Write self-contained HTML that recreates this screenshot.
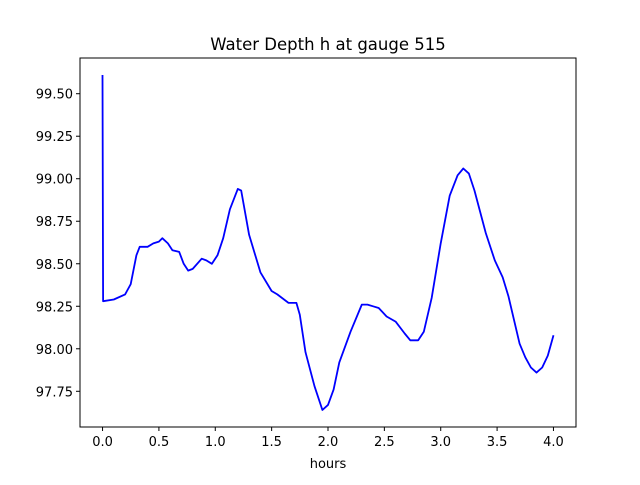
<!DOCTYPE html>
<html><head><meta charset="utf-8"><style>
body{margin:0;background:#fff;}
svg text{font-family:"DejaVu Sans","Liberation Sans",sans-serif;fill:#000;}
</style></head><body>
<svg id="chart" width="640" height="480" xmlns="http://www.w3.org/2000/svg">
<rect width="640" height="480" fill="#fff"/>
<text x="328" y="50" font-size="16.5" text-anchor="middle">Water Depth h at gauge 515</text>
<g id="plot"></g>
<rect x="80" y="58" width="496" height="369" fill="none" stroke="#000" stroke-width="1"/>
<text x="328" y="468" font-size="13" text-anchor="middle">hours</text>
</svg>
<script>
const hours=[0,0.005,0.1,0.2,0.25,0.3,0.33,0.4,0.45,0.5,0.53,0.58,0.62,0.68,0.72,0.76,0.8,0.88,0.92,0.97,1.02,1.07,1.13,1.2,1.23,1.3,1.4,1.5,1.55,1.65,1.72,1.75,1.8,1.88,1.95,2.0,2.05,2.1,2.2,2.3,2.35,2.4,2.45,2.52,2.6,2.68,2.73,2.8,2.85,2.92,3.0,3.08,3.15,3.2,3.25,3.3,3.4,3.48,3.55,3.6,3.7,3.75,3.8,3.85,3.9,3.95,4.0];
const depth=[99.61,98.28,98.29,98.32,98.38,98.55,98.60,98.60,98.62,98.63,98.65,98.62,98.58,98.57,98.50,98.46,98.47,98.53,98.52,98.50,98.55,98.65,98.82,98.94,98.93,98.67,98.45,98.34,98.32,98.27,98.27,98.20,97.98,97.78,97.64,97.67,97.76,97.92,98.10,98.26,98.26,98.25,98.24,98.19,98.16,98.09,98.05,98.05,98.10,98.30,98.62,98.90,99.02,99.06,99.03,98.93,98.68,98.52,98.42,98.31,98.03,97.95,97.89,97.86,97.89,97.96,98.08];
const xTicks=[0,0.5,1,1.5,2,2.5,3,3.5,4];
const xTickLabels=["0.0","0.5","1.0","1.5","2.0","2.5","3.0","3.5","4.0"];
const yTicks=[97.75,98.0,98.25,98.5,98.75,99.0,99.25,99.5];
const yTickLabels=["97.75","98.00","98.25","98.50","98.75","99.00","99.25","99.50"];
const L=80,R=576,T=58,B=427;
const xmin=-0.2,xmax=4.2,ymin=97.54,ymax=99.71;
const sx=v=>L+(v-xmin)/(xmax-xmin)*(R-L);
const sy=v=>B-(v-ymin)/(ymax-ymin)*(B-T);
const NS="http://www.w3.org/2000/svg";
const g=document.getElementById('plot');
xTicks.forEach((t,i)=>{
  const x=sx(t);
  const l=document.createElementNS(NS,'line');
  l.setAttribute('x1',x);l.setAttribute('x2',x);l.setAttribute('y1',B);l.setAttribute('y2',B+4);
  l.setAttribute('stroke','#000');
  
  
  g.appendChild(l);
  const tx=document.createElementNS(NS,'text');
  tx.setAttribute('x',x);tx.setAttribute('y',B+19);tx.setAttribute('font-size','13');tx.setAttribute('text-anchor','middle');
  tx.textContent=xTickLabels[i];
  
  
  g.appendChild(tx);
});
yTicks.forEach((t,i)=>{
  const y=sy(t);
  const l=document.createElementNS(NS,'line');
  l.setAttribute('x1',L-4);l.setAttribute('x2',L);l.setAttribute('y1',y);l.setAttribute('y2',y);
  l.setAttribute('stroke','#000');
  
  
  g.appendChild(l);
  const tx=document.createElementNS(NS,'text');
  tx.setAttribute('x',L-7);tx.setAttribute('y',y+5);tx.setAttribute('font-size','13');tx.setAttribute('text-anchor','end');
  tx.textContent=yTickLabels[i];
  
  
  g.appendChild(tx);
});
const p=document.createElementNS(NS,'polyline');
p.setAttribute('points',hours.map((h,i)=>sx(h).toFixed(1)+','+sy(depth[i]).toFixed(1)).join(' '));
p.setAttribute('fill','none');p.setAttribute('stroke','#0000ff');p.setAttribute('stroke-width','1.8');p.setAttribute('stroke-linejoin','round');


g.appendChild(p);
</script>
</body></html>
